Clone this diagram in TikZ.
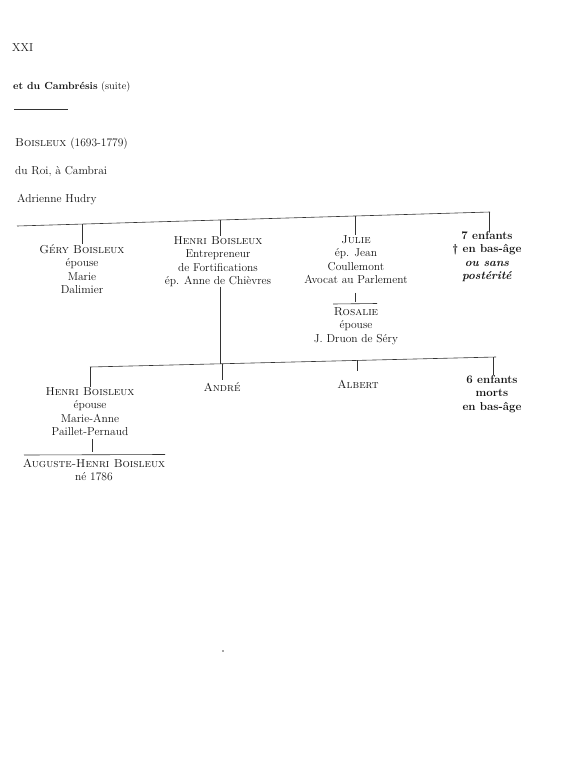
\documentclass[tikz,border=0pt]{standalone}
\usepackage{fontspec}
\begin{document}
\begin{tikzpicture}[x=1pt,y=-1pt,
  txt/.style={font=\fontsize{11.5}{13.5}\selectfont, align=center, inner sep=0pt, anchor=north, text=black!92},
  lft/.style={font=\fontsize{11.5}{13.5}\selectfont, anchor=base west, inner sep=0pt, text=black!92},
  ln/.style={line width=0.6pt, draw=black!80}]
\useasboundingbox[fill=white] (0,0) rectangle (564,768);
% header
\node[lft] (xxi) at (12,52) {XXI};
\node[lft, font=\fontsize{10.3}{13.5}\selectfont] (title) at (13,89) {\textbf{et du Cambrésis} (suite)};
\coordinate (u1) at (14,109); \coordinate (u2) at (68,109);
\draw[ln] (u1) -- (u2);
\node[lft] (bois) at (15,146) {\textsc{Boisleux} (1693-1779)};
\node[lft] (roi) at (15,174) {du Roi, à Cambrai};
\node[lft] (adr) at (17,202) {Adrienne Hudry};
% first generation line
\coordinate (t1) at (17,226); \coordinate (t2) at (490,212);
\draw[ln] (t1) -- (t2);
\coordinate (tg) at (82,224); \coordinate (th) at (220,220); \coordinate (tj) at (355,216); \coordinate (ts) at (489,212.2);
\node[txt] (gery) at (82,244) {\textsc{Géry Boisleux}\\épouse\\Marie\\Dalimier};
\node[txt] (henri) at (218,236) {\textsc{Henri Boisleux}\\Entrepreneur\\de Fortifications\\ép. Anne de Chièvres};
\node[txt] (julie) at (356,235) {\textsc{Julie}\\ép. Jean\\Coullemont\\Avocat au Parlement};
\node[txt] (sept) at (487,231) {\textbf{7 enfants}\\\textbf{\dag{} en bas-âge}\\\textbf{\textit{ou sans}}\\\textbf{\textit{postérité}}};
\draw[ln] (tg) -- (gery.north);
\draw[ln] (th) -- (th|-henri.north);
\draw[ln] (tj) -- (tj|-julie.north);
\draw[ln] (ts) -- (ts|-sept.north);
% Rosalie
\coordinate (jr) at (355,302);
\draw[ln, shorten <=9pt] (tj|-julie.south) -- (jr);
\coordinate (r1) at (333,304); \coordinate (r2) at (377,303.5);
\draw[ln] (r1) -- (r2);
\node[txt] (rosalie) at (356,307) {\textsc{Rosalie}\\épouse\\J. Druon de Séry};
% second generation line
\coordinate (s1) at (90,367); \coordinate (s2) at (496,357);
\draw[ln] (s1) -- (s2);
\coordinate (sh) at (220,363.8);
\draw[ln] (th|-henri.south) -- (sh);
\coordinate (sa) at (222,363.7); \coordinate (sb) at (357,360.4); \coordinate (sx) at (493,357.1);
\node[txt] (henri2) at (90,387) {\textsc{Henri Boisleux}\\épouse\\Marie-Anne\\Paillet-Pernaud};
\node[txt] (andre) at (222,382) {\textsc{André}};
\node[txt] (albert) at (358,380) {\textsc{Albert}};
\node[txt] (six) at (492,375) {\textbf{6 enfants}\\\textbf{morts}\\\textbf{en bas-âge}};
\draw[ln] (s1) -- (s1|-henri2.north);
\draw[ln, shorten >=2pt] (sa) -- (sa|-andre.north);
\draw[ln, shorten >=9pt] (sb) -- (sb|-albert.north);
\draw[ln] (sx) -- (sx|-six.north);
% Auguste-Henri
\coordinate (ha) at (92,452);
\draw[ln, shorten <=3pt] (ha|-henri2.south) -- (ha);
\coordinate (a1) at (24,455); \coordinate (a2) at (165,454.5);
\draw[ln] (a1) -- (a2);
\node[txt] (auguste) at (94,459) {\textsc{Auguste-Henri Boisleux}\\né 1786};
% scan speck
\fill[black!70] (223,651) circle (0.9);
\end{tikzpicture}
\end{document}
